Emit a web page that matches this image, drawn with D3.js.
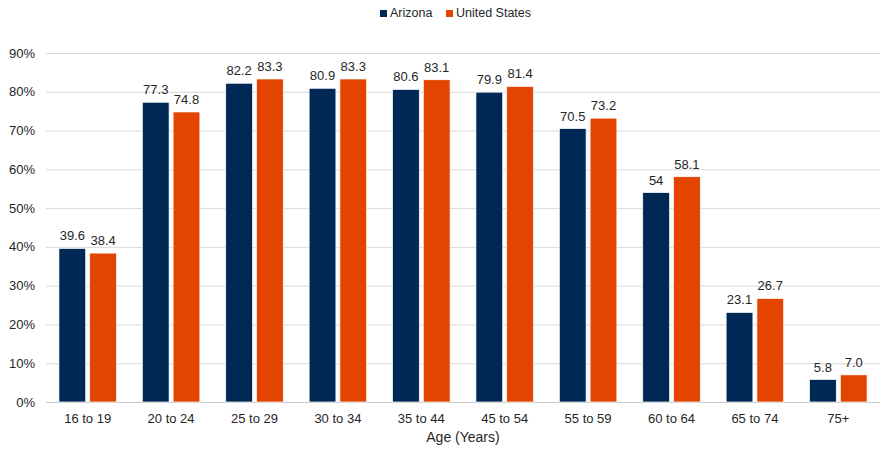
<!DOCTYPE html>
<html>
<head>
<meta charset="utf-8">
<script src="https://cdn.jsdelivr.net/npm/d3@7"></script>
<style>
  body { margin: 0; background: #fff; }
  svg { font-family: "Liberation Sans", Arial, sans-serif; }
</style>
</head>
<body>
<svg width="882" height="451"></svg>
<script>
const ages = ["16 to 19", "20 to 24", "25 to 29", "30 to 34", "35 to 44", "45 to 54", "55 to 59", "60 to 64", "65 to 74", "75+"]
const arizona = [39.6, 77.3, 82.2, 80.9, 80.6, 79.9, 70.5, 54, 23.1, 5.8]
const unitedStates = [38.4, 74.8, 83.3, 83.3, 83.1, 81.4, 73.2, 58.1, 26.7, 7.0]
const arizonaLabels = ["39.6", "77.3", "82.2", "80.9", "80.6", "79.9", "70.5", "54", "23.1", "5.8"]
const usLabels = ["38.4", "74.8", "83.3", "83.3", "83.1", "81.4", "73.2", "58.1", "26.7", "7.0"]
const yTicks = [0, 10, 20, 30, 40, 50, 60, 70, 80, 90]
const seriesNames = ["Arizona", "United States"]
const colors = ["#002855", "#e34400"]

const svg = d3.select("svg")
const plotLeft = 46, plotRight = 880, plotTop = 53, plotBottom = 402

const x = d3.scaleBand().domain(ages).range([plotLeft, plotRight]).paddingInner(0).paddingOuter(0)
const x1 = d3.scaleBand().domain(seriesNames).range([0, x.bandwidth()]).paddingInner(0.13).paddingOuter(0.42)
const y = d3.scaleLinear().domain([0, 90]).range([plotBottom, plotTop])

// gridlines
svg.append("g")
  .selectAll("line")
  .data(yTicks)
  .enter()
  .append("line")
  .attr("x1", plotLeft)
  .attr("x2", plotRight)
  .attr("y1", d => y(d) + 0.5)
  .attr("y2", d => y(d) + 0.5)
  .attr("stroke", d => d === 0 ? "#c8c8c8" : "#d9d9d9")
  .attr("stroke-width", 1)

// y tick labels
svg.append("g")
  .selectAll("text")
  .data(yTicks)
  .enter()
  .append("text")
  .attr("x", 35)
  .attr("y", d => y(d))
  .attr("dy", "0.35em")
  .attr("text-anchor", "end")
  .attr("font-size", 13)
  .attr("fill", "#262626")
  .text(d => d + "%")

const rows = ages.map((a, i) => ({
  age: a,
  vals: [
    { name: seriesNames[0], v: arizona[i], label: arizonaLabels[i] },
    { name: seriesNames[1], v: unitedStates[i], label: usLabels[i] }
  ]
}))

const groups = svg.append("g")
  .selectAll("g")
  .data(rows)
  .enter()
  .append("g")
  .attr("transform", d => `translate(${x(d.age)},0)`)

groups.selectAll("rect")
  .data(d => d.vals)
  .enter()
  .append("rect")
  .attr("x", d => x1(d.name))
  .attr("width", x1.bandwidth())
  .attr("y", d => y(d.v))
  .attr("height", d => y(0) - y(d.v))
  .attr("fill", (d, i) => colors[i])
  .attr("stroke", "#fff")
  .attr("stroke-width", 0.7)

groups.selectAll("text")
  .data(d => d.vals)
  .enter()
  .append("text")
  .attr("x", d => x1(d.name) + x1.bandwidth() / 2)
  .attr("y", d => y(d.v) - 8)
  .attr("text-anchor", "middle")
  .attr("font-size", 13)
  .attr("fill", "#262626")
  .text(d => d.label)

// x tick labels
svg.append("g")
  .selectAll("text")
  .data(ages)
  .enter()
  .append("text")
  .attr("x", d => x(d) + x.bandwidth() / 2)
  .attr("y", 423)
  .attr("text-anchor", "middle")
  .attr("font-size", 13)
  .attr("fill", "#262626")
  .text(d => d)

svg.append("text")
  .attr("x", (plotLeft + plotRight) / 2)
  .attr("y", 442)
  .attr("text-anchor", "middle")
  .attr("font-size", 14)
  .attr("fill", "#262626")
  .text("Age (Years)")

// legend
const legend = svg.append("g").attr("transform", "translate(380,13)")
const legendX = [0, 66]
seriesNames.forEach((n, i) => {
  legend.append("rect")
    .attr("x", legendX[i])
    .attr("y", -3)
    .attr("width", 7)
    .attr("height", 7)
    .attr("fill", colors[i])
  legend.append("text")
    .attr("x", legendX[i] + 10)
    .attr("y", 0)
    .attr("dy", "0.35em")
    .attr("font-size", 12.5)
    .attr("fill", "#262626")
    .text(n)
})
</script>
</body>
</html>
